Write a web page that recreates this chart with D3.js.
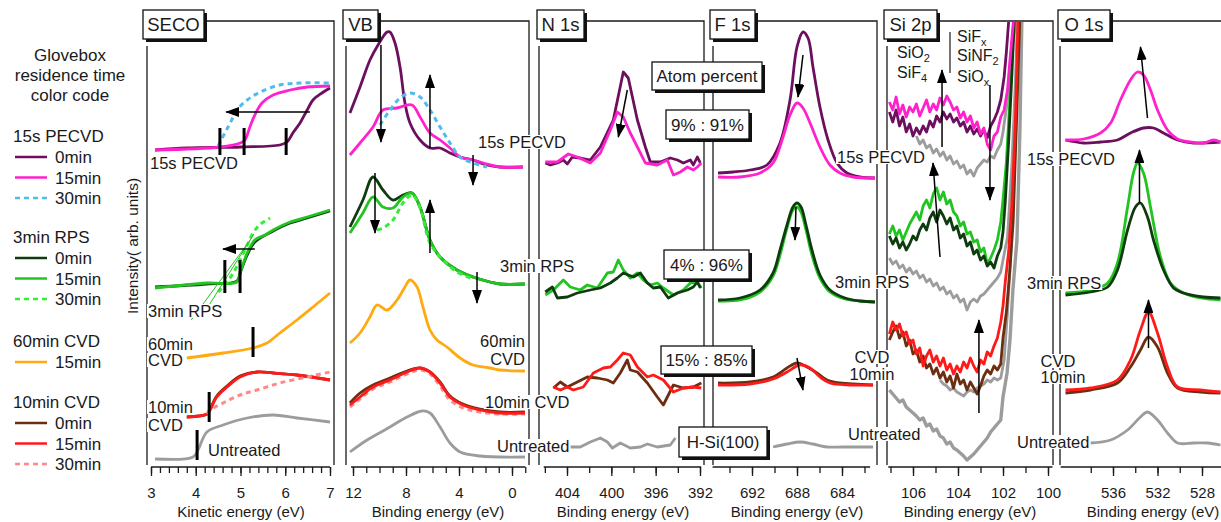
<!DOCTYPE html>
<html>
<head>
<meta charset="utf-8">
<script src="https://cdn.jsdelivr.net/npm/d3@7"></script>
<style>
  body { margin: 0; background: #fff; }
  text { font-family: Arial, "Liberation Sans", sans-serif; fill: #1a1a1a; }
</style>
</head>
<body>
<div id="chart"></div>
<script>
// ---- data: [energy (eV), intensity (arb. units)] ----

// SECO (kinetic energy)
const secoPecvd0 = [[3.09,312],[3.8,314],[5.0,315],[5.88,317],[6.04,320],[6.17,329],[6.33,339],[6.49,352],[6.62,362],[6.82,369],[7.0,374]];
const secoPecvd15 = [[3.09,312],[4.54,315],[5.0,319],[5.1,322],[5.21,335],[5.32,347],[5.48,359],[5.73,367],[6.11,372],[6.49,375],[7.0,376]];
const secoPecvd30 = [[4.5,316],[4.65,329],[4.77,339],[4.92,352],[5.15,362],[5.44,370],[5.88,377],[6.33,379],[7.0,379]];
const secoRps0 = [[3.09,175],[4.25,178],[4.92,181],[5.0,190],[5.15,207],[5.32,220],[5.73,231],[6.11,239],[6.49,244],[7.0,251]];
const secoRps15 = [[3.09,174],[4.25,179],[4.92,180],[4.99,189],[5.15,209],[5.32,222],[5.55,227],[5.73,232],[6.11,240],[6.49,245],[7.0,252]];
const secoRps30 = [[4.5,170],[4.7,180],[4.85,190],[4.99,202],[5.15,217],[5.28,229],[5.45,238],[5.66,244]];
const secoRpsFits = [[[3.9,142],[5.25,224]], [[4.2,150],[5.3,228]]];
const secoCvd60 = [[3.8,104],[4.61,109],[5.28,114],[5.59,119],[5.88,129],[6.26,142],[6.62,155],[7.0,169]];
const secoCvd10_0 = [[3.8,45],[4.25,48],[4.32,53],[4.47,66],[4.7,76],[4.99,86],[5.37,90],[5.73,89],[6.26,87],[7.0,82]];
const secoCvd10_15 = [[3.8,45],[4.25,48],[4.32,52],[4.47,65],[4.7,75],[4.99,85],[5.37,90],[5.73,89],[6.26,87],[7.0,82]];
const secoCvd10_30 = [[4.25,48],[4.32,52],[4.61,59],[4.99,67],[5.37,72],[5.88,79],[6.49,85],[7.0,90]];
const secoUntreated = [[3.09,3],[3.94,5],[4.05,12],[4.25,30],[4.61,37],[5.15,44],[5.73,47],[6.26,44],[7.0,40]];
// cutoff markers: [energy, low, high]
const secoMarks = [[4.54,307,334],[5.08,307,334],[6.02,307,334],[4.65,169,202],[4.99,169,202],[5.28,105,135],[4.3,40,70],[4.03,2,32]];

// VB
const vbPecvd0 = [[12.23,349],[11.47,375],[10.72,402],[10.11,417],[9.43,430],[9.21,430],[8.83,419],[8.45,395],[8.08,359],[7.7,339],[6.94,322],[6.19,314],[5.43,314],[4.68,309],[3.92,305],[2.94,302],[1.89,297],[0.91,295],[-0.83,295]];
const vbPecvd15 = [[12.23,307],[11.47,319],[10.49,335],[9.74,352],[8.68,354],[7.55,357],[6.94,345],[6.19,329],[5.43,322],[4.68,314],[3.92,305],[2.94,302],[1.89,298],[0.91,295],[-0.83,295]];
const vbPecvd30 = [[9.96,337],[9.21,352],[8.45,364],[7.7,369],[6.94,365],[6.19,352],[5.43,335],[4.68,319],[3.92,305],[2.94,299],[1.89,295]];
const vbRps0 = [[12.23,235],[11.25,262],[10.49,285],[9.74,272],[8.98,262],[8.23,267],[7.55,269],[6.94,255],[6.19,222],[5.43,205],[4.15,192],[2.94,185],[1.66,180],[0.91,178],[-0.98,178]];
const vbRps15 = [[12.23,229],[11.25,249],[10.49,265],[9.74,255],[8.98,254],[8.23,265],[7.55,269],[6.94,255],[6.19,222],[5.43,205],[4.15,192],[2.94,185],[1.66,180],[0.91,178],[-0.98,178]];
const vbRps30 = [[10.19,232],[9.74,234],[8.98,242],[8.23,259],[7.55,267],[6.94,254],[6.19,219],[5.21,202],[4.15,190],[2.94,183]];
const vbCvd60 = [[12.23,119],[11.47,129],[10.72,145],[10.19,157],[9.43,152],[8.68,162],[8.08,175],[7.7,182],[7.17,175],[6.72,155],[6.19,132],[5.66,122],[4.91,115],[3.92,104],[2.94,97],[1.66,94],[0.91,92],[-0.98,91]];
const vbCvd10_0 = [[12.23,59],[11.47,69],[10.49,77],[9.21,84],[7.92,91],[6.94,94],[6.19,90],[5.43,80],[4.68,66],[3.7,58],[2.42,53],[0.91,50],[-0.98,50]];
const vbCvd10_15 = [[12.23,57],[11.47,65],[10.49,75],[9.21,82],[7.92,90],[6.94,94],[6.19,90],[5.43,79],[4.68,65],[3.7,57],[2.42,52],[0.91,49],[-0.98,49]];
const vbCvd10_30 = [[12.23,55],[11.47,63],[10.49,73],[9.21,80],[7.92,88],[6.94,92],[6.19,88],[5.43,76],[4.68,62],[3.7,54],[2.42,50],[0.91,48],[-0.98,48]];
const vbUntreated = [[12.23,10],[10.94,22],[9.21,35],[7.92,45],[6.79,51],[6.19,49],[5.43,35],[4.68,19],[3.92,10],[2.42,6],[-0.98,5]];

// N 1s
const n1sPecvd0 = [[405.96,299],[405.5,297],[404.87,299],[404.33,302],[403.97,298],[403.52,305],[402.8,304],[401.9,302],[400.99,315],[399.82,342],[398.92,390],[398.47,384],[397.65,342],[396.93,315],[396.48,300],[395.58,300],[394.68,304],[394.04,302],[393.5,299],[392.87,302],[392.6,297],[392.24,305],[391.97,299]];
const n1sPecvd15 = [[405.96,300],[404.87,300],[403.88,308],[403.07,305],[401.9,299],[400.99,309],[400.09,332],[399.46,350],[398.92,345],[398.29,329],[397.65,315],[396.93,299],[395.85,297],[394.95,302],[394.4,287],[393.77,290],[393.14,295],[392.6,292],[392.24,295],[391.88,299]];
const n1sRps0 = [[405.96,170],[405.32,175],[404.87,164],[403.97,165],[403.07,169],[401.9,172],[400.99,174],[400.09,179],[399.46,184],[398.92,189],[398.01,185],[397.38,189],[396.75,179],[396.21,174],[395.58,175],[394.86,164],[394.04,169],[393.14,172],[392.6,175],[392.24,180],[391.97,174]];
const n1sRps15 = [[405.96,167],[405.23,172],[404.33,182],[403.7,175],[402.8,172],[402.17,177],[401.26,174],[400.36,189],[399.82,190],[399.37,202],[398.92,192],[398.29,184],[397.65,189],[397.11,182],[396.48,177],[395.85,179],[395.31,174],[394.4,167],[393.5,172],[392.87,179],[392.24,180],[391.88,174]];
const n1sCvd0 = [[405.23,74],[404.6,80],[403.97,75],[403.07,80],[402.17,85],[401.26,84],[400.36,82],[399.82,79],[399.19,89],[398.56,102],[398.29,92],[397.65,90],[396.75,79],[395.85,65],[395.31,57],[394.4,77],[393.5,74],[392.6,75],[391.88,79]];
const n1sCvd15 = [[405.23,75],[404.6,72],[403.97,75],[403.43,72],[402.53,75],[401.62,89],[400.72,94],[400.09,95],[399.46,102],[398.92,109],[398.29,107],[397.65,95],[396.75,85],[396.21,87],[395.31,82],[394.4,70],[393.5,74],[392.6,75],[391.88,74]];
const n1sUntreated = [[403.7,15],[402.8,15],[401.9,20],[400.99,24],[400.36,20],[399.91,14],[399.19,19],[398.29,14],[397.38,15],[396.75,18],[395.85,15],[394.68,17],[394.22,24]];

// F 1s
const f1sPecvd0 = [[695.02,289],[693.69,290],[692.18,292],[690.67,297],[689.51,319],[688.62,362],[688,415],[687.47,430],[687.02,424],[686.58,395],[685.96,355],[685.24,322],[684.44,299],[683.56,289],[682.4,285],[681.07,284]];
const f1sPecvd15 = [[695.02,285],[693.07,285],[691.29,289],[690.13,299],[689.24,325],[688.62,347],[688,359],[687.47,354],[686.84,339],[685.96,315],[685.07,297],[684.18,289],[683.02,285],[681.07,284]];
const f1sRps0 = [[695.02,162],[693.07,164],[691.29,172],[690.13,189],[689.51,212],[688.89,237],[688.36,255],[688,259],[687.64,255],[687.2,237],[686.67,212],[685.96,187],[685.07,172],[683.73,164],[682.4,161],[681.07,160]];
const f1sRps15 = [[695.02,161],[693.07,162],[691.29,170],[690.13,186],[689.51,207],[688.89,234],[688.36,252],[688,255],[687.64,250],[687.2,232],[686.67,207],[685.96,184],[685.07,170],[683.73,163],[682.4,161],[681.07,160]];
const f1sCvd0 = [[695.02,79],[692.18,80],[690.13,85],[688.89,94],[688,99],[687.11,95],[686.22,89],[685.33,82],[684.18,79],[681.24,77]];
const f1sCvd15 = [[695.02,77],[692.18,78],[690.13,83],[688.89,90],[687.73,97],[686.84,94],[685.96,85],[685.07,79],[683.29,77],[681.24,77]];
const f1sUntreated = [[690.13,15],[688.89,18],[687.73,20],[686.58,18],[685.33,15],[683.91,15],[681.24,15]];

// Si 2p: shared energy grid, then steep tails
const si2pGrid = [107.05,106.9,106.75,106.6,106.45,106.3,106.15,106.0,105.85,105.7,105.55,105.4,105.25,105.1,104.95,104.8,104.65,104.5,104.35,104.2,104.05,103.9,103.75,103.6,103.45,103.3,103.15,103.0,102.85,102.7,102.55,102.4,102.25,102.1];
const si2pPecvd15 = [360,352,365,348,357,345,355,350,358,346,354,362,350,358,352,364,357,366,360,352,355,344,350,340,346,334,340,328,334,318,312,326,330,345];
const si2pPecvd15Tail = [[101.95,352],[101.8,372],[101.7,400],[101.58,430],[101.5,450]];
const si2pPecvd0 = [350,340,352,336,345,330,338,326,334,328,336,330,341,335,346,340,350,343,348,340,344,336,340,330,336,328,333,326,332,324,336,342,350,362];
const si2pPecvd0Tail = [[101.95,385],[101.85,410],[101.75,440],[101.65,460]];
const si2pPecvdRef = [[105.85,326],[105.7,318],[105.55,322],[105.4,314],[105.25,317],[105.1,309],[104.95,313],[104.8,306],[104.65,310],[104.5,302],[104.35,306],[104.2,298],[104.05,301],[103.9,294],[103.75,297],[103.6,288],[103.45,292],[103.3,286],[103.15,294],[103.0,298],[102.85,302],[102.7,300],[102.55,306],[102.4,304],[102.25,312],[102.1,318],[102.0,330],[101.8,362],[101.6,412],[101.4,445]];
const si2pRps15 = [228,236,226,232,222,230,238,244,250,242,256,262,254,268,274,262,270,258,262,250,246,236,240,228,230,220,222,210,214,198,204,212,222,240];
const si2pRps15Tail = [[102.0,262],[101.85,300],[101.7,360],[101.58,420],[101.5,450]];
const si2pRps0 = [226,218,224,214,220,212,218,226,222,232,238,232,244,250,240,252,246,238,244,232,236,224,228,216,220,208,212,202,206,196,200,194,206,214];
const si2pRps0Tail = [[102.0,230],[101.9,260],[101.75,320],[101.6,390],[101.48,450]];
const si2pRpsRef = [204,198,201,194,197,190,194,188,191,184,187,180,183,176,179,172,175,168,171,164,167,160,163,152,160,163,160,166,168,172,176,180,184,190];
const si2pRpsRefTail = [[102.0,202],[101.8,225],[101.6,300],[101.45,380],[101.35,445]];
const si2pCvd15 = [128,140,132,138,126,130,118,122,108,114,96,106,112,100,106,96,104,92,98,88,96,90,100,94,104,96,90,102,98,110,106,116,124,140];
const si2pCvd15Tail = [[102.0,156],[101.9,180],[101.75,210],[101.6,260],[101.45,340],[101.33,445]];
const si2pCvd0 = [122,130,136,124,130,116,122,108,112,100,106,94,98,88,94,84,90,80,86,74,88,78,82,72,80,74,68,76,86,92,88,96,92,98];
const si2pCvd0Tail = [[102.0,124],[101.85,150],[101.7,190],[101.55,240],[101.4,340],[101.25,445]];
const si2pCvdRef = [[104.8,82],[104.65,78],[104.5,76],[104.35,72],[104.2,74],[104.05,70],[103.9,68],[103.75,66],[103.6,70],[103.45,72],[103.3,70],[103.15,74],[103.0,76],[102.85,78],[102.7,82],[102.55,80],[102.4,84],[102.25,82],[102.1,84],[101.95,102],[101.8,150],[101.65,210],[101.5,300],[101.35,445]];
const si2pUntreated = [72,68,64,60,62,55,52,49,46,42,44,36,38,31,33,26,24,18,20,14,12,9,6,2,5,8,12,16,20,24,30,34,38,42];
const si2pUntreatedTail = [[102.0,65],[101.82,89],[101.69,122],[101.56,172],[101.38,222],[101.25,330],[101.16,445]];

// O 1s
const o1sPecvd15 = [[540.27,322],[538.65,323],[537.12,329],[536.21,339],[535.33,362],[534.43,382],[533.8,390],[533.26,387],[532.63,372],[532,352],[531.1,332],[530.2,323],[529.03,320],[527.87,319],[526.97,322],[526.34,320]];
const o1sPecvd0 = [[540.27,322],[538.65,319],[537.12,320],[535.6,322],[534.43,329],[533.26,334],[532.36,334],[531.46,329],[530.2,322],[528.76,319],[526.34,320]];
const o1sRps15 = [[540.27,169],[538.02,172],[536.48,179],[535.6,199],[534.69,255],[534.16,289],[533.8,299],[533.26,289],[532.63,255],[531.73,205],[530.83,179],[529.66,169],[528.13,164],[526.34,162]];
const o1sRps0 = [[540.27,167],[538.02,170],[536.48,175],[535.6,192],[534.69,232],[533.98,255],[533.53,259],[532.9,245],[532.36,222],[531.46,192],[530.56,174],[529.66,169],[527.87,165],[526.34,164]];
const o1sCvd15 = [[540.27,72],[538.02,74],[535.6,82],[534.43,102],[533.53,132],[532.81,150],[532,129],[531.1,95],[530.2,75],[528.13,72],[526.34,70]];
const o1sCvd0 = [[540.27,69],[538.02,72],[535.6,79],[534.43,95],[533.53,112],[532.81,125],[532,115],[531.1,89],[530.2,74],[528.13,70],[526.34,69]];
const o1sUntreated = [[538.02,19],[536.21,22],[534.69,32],[533.53,45],[532.9,50],[532,42],[531.1,29],[530.2,19],[528.76,19],[527.51,19],[526.34,17]];

// arrows: [E1, I1, E2, I2] (head at second point)
const secoArrows = [[6.55,350,4.68,350],[5.32,213,4.61,213]];
const vbArrows = [[9.89,417,9.89,320],[6.19,314,6.19,387],[2.94,307,2.94,277],[10.34,289,10.34,229],[6.19,209,6.19,262],[2.64,190,2.64,159]];
const n1sArrows = [[398.56,372,399.37,325]];
const f1sArrows = [[687.47,407,687.91,365],[688.09,255,688.18,222],[688,104,687.47,72]];
const si2pArrows = [[104.71,315,104.71,392],[102.58,377,102.58,262],[104.8,205,105.11,299],[103.07,49,103.07,142]];
const o1sArrows = [[532.9,344,533.53,415],[533.62,259,533.62,312],[532.81,114,532.81,162]];

// ---- layout ----
const W = 1221, H = 522;
const C = {
  pur: '#6b0f5e', mag: '#ff22cc', blu: '#4fbcf0',
  dgr: '#0f3c0f', grn: '#22c422', lgr: '#33ee33',
  ora: '#ffaa11', bro: '#6b2e10', red: '#ff1a1a', pnk: '#ff8888', gry: '#9c9c9c'
};
const INK = '#1a1a1a';
const AXIS_Y = 467;

const svg = d3.select('#chart').append('svg').attr('width', W).attr('height', H);
const y = d3.scaleLinear().domain([0, 440]).range([462, 22]);

const zip = (grid, vals, tail) => grid.map((e, i) => [e, vals[i]]).concat(tail);

const panels = [
  { id: 'seco', name: 'SECO', box: [143, 10, 207, 42], left: 147, right: 334,
    dom: [3, 7], rng: [151, 330], ext: [3, 7], smooth: true,
    major: [3, 4, 5, 6, 7], minor: d3.range(3, 7.001, 0.2),
    title: 'Kinetic energy (eV)', titleX: 241,
    series: [
      [secoUntreated, C.gry], [secoCvd10_0, C.bro], [secoCvd10_15, C.red], [secoCvd10_30, C.pnk, true],
      [secoCvd60, C.ora], [secoRps0, C.dgr], [secoRps15, C.grn], [secoRps30, C.lgr, true],
      [secoPecvd0, C.pur], [secoPecvd15, C.mag], [secoPecvd30, C.blu, true]
    ], arrows: secoArrows },
  { id: 'vb', name: 'VB', box: [343, 10, 381, 42], left: 346, right: 529,
    dom: [12, 0], rng: [353, 512], ext: [12.15, -1], smooth: true,
    major: [12, 8, 4, 0], minor: d3.range(-1, 12.5, 1),
    title: 'Binding energy (eV)', titleX: 438,
    series: [
      [vbUntreated, C.gry], [vbCvd10_30, C.pnk, true], [vbCvd10_0, C.bro], [vbCvd10_15, C.red],
      [vbCvd60, C.ora], [vbRps0, C.dgr], [vbRps15, C.grn], [vbRps30, C.lgr, true],
      [vbPecvd0, C.pur], [vbPecvd15, C.mag], [vbPecvd30, C.blu, true]
    ], arrows: vbArrows },
  { id: 'n1s', name: 'N 1s', box: [537, 10, 587, 42], left: 539, right: 704,
    dom: [404, 392], rng: [567, 700], ext: [406.1, 391.9], smooth: false,
    major: [404, 400, 396, 392], minor: d3.range(392, 406.5, 2),
    title: 'Binding energy (eV)', titleX: 623,
    series: [
      [n1sUntreated, C.gry], [n1sCvd0, C.bro], [n1sCvd15, C.red],
      [n1sRps15, C.grn], [n1sRps0, C.dgr], [n1sPecvd0, C.pur], [n1sPecvd15, C.mag]
    ], arrows: n1sArrows },
  { id: 'f1s', name: 'F 1s', box: [710, 10, 758, 42], left: 713, right: 877,
    dom: [692, 684], rng: [752, 842], ext: [695.5, 681.5], smooth: true,
    major: [692, 688, 684], minor: d3.range(682, 694.5, 2),
    title: 'Binding energy (eV)', titleX: 797,
    series: [
      [f1sUntreated, C.gry], [f1sCvd0, C.bro], [f1sCvd15, C.red],
      [f1sRps15, C.grn], [f1sRps0, C.dgr], [f1sPecvd0, C.pur], [f1sPecvd15, C.mag]
    ], arrows: f1sArrows },
  { id: 'si2p', name: 'Si 2p', box: [884, 10, 940, 42], left: 887, right: 1053,
    dom: [106, 100], rng: [913, 1048], ext: [107.1, 99.8], smooth: false,
    major: [106, 104, 102, 100], minor: d3.range(100, 107.5, 1),
    title: 'Binding energy (eV)', titleX: 970,
    series: [
      [zip(si2pGrid, si2pUntreated, si2pUntreatedTail), C.gry, false, 3.4],
      [si2pCvdRef, C.gry], [zip(si2pGrid, si2pRpsRef, si2pRpsRefTail), C.gry], [si2pPecvdRef, C.gry],
      [zip(si2pGrid, si2pCvd0, si2pCvd0Tail), C.bro], [zip(si2pGrid, si2pCvd15, si2pCvd15Tail), C.red],
      [zip(si2pGrid, si2pRps15, si2pRps15Tail), C.grn], [zip(si2pGrid, si2pRps0, si2pRps0Tail), C.dgr],
      [zip(si2pGrid, si2pPecvd0, si2pPecvd0Tail), C.pur], [zip(si2pGrid, si2pPecvd15, si2pPecvd15Tail), C.mag]
    ], arrows: si2pArrows },
  { id: 'o1s', name: 'O 1s', box: [1058, 10, 1113, 42], left: 1060, right: 1240,
    dom: [536, 528], rng: [1113, 1202], ext: [540.7, 525.5], smooth: true,
    major: [536, 532, 528], minor: d3.range(526, 538.5, 2),
    title: 'Binding energy (eV)', titleX: 1153,
    series: [
      [o1sUntreated, C.gry], [o1sCvd0, C.bro], [o1sCvd15, C.red],
      [o1sRps15, C.grn], [o1sRps0, C.dgr], [o1sPecvd0, C.pur], [o1sPecvd15, C.mag]
    ], arrows: o1sArrows }
];

// arrow head
svg.append('defs').append('marker')
  .attr('id', 'head').attr('markerUnits', 'userSpaceOnUse')
  .attr('markerWidth', 14).attr('markerHeight', 10)
  .attr('refX', 13).attr('refY', 5).attr('orient', 'auto')
  .append('path').attr('d', 'M0,0L14,5L0,10Z').attr('fill', '#000');

panels.forEach((p) => {
  const x = d3.scaleLinear().domain(p.dom).range(p.rng);
  const g = svg.append('g').attr('class', 'panel-' + p.id);

  svg.select('defs').append('clipPath').attr('id', 'clip-' + p.id)
    .append('rect').attr('x', p.left + 1).attr('y', 22)
    .attr('width', p.right - p.left - 2).attr('height', 442);

  // frame
  g.append('path')
    .attr('d', `M${p.left},46V465M${p.box[2]},21H${p.right}V465`)
    .attr('fill', 'none').attr('stroke', INK).attr('stroke-width', 1.3);

  // bottom axis
  const ax = g.append('g').attr('transform', `translate(0,${AXIS_Y})`);
  ax.append('line').attr('x1', x(p.ext[0])).attr('x2', x(p.ext[1]))
    .attr('stroke', INK).attr('stroke-width', 1.3);
  ax.call(d3.axisBottom(x).tickValues(p.minor).tickSize(6).tickFormat(''))
    .call((s) => s.select('.domain').remove());
  const maj = g.append('g').attr('transform', `translate(0,${AXIS_Y})`);
  maj.call(d3.axisBottom(x).tickValues(p.major).tickSize(9).tickFormat(d3.format('d')))
    .call((s) => s.select('.domain').remove())
    .call((s) => s.selectAll('.tick text').attr('y', 20).style('font-size', '15px').attr('fill', INK));
  g.selectAll('.tick line').attr('stroke', INK).attr('stroke-width', 1.3);

  g.append('text').attr('x', p.titleX).attr('y', 517).attr('text-anchor', 'middle')
    .style('font-size', '15px').text(p.title);

  // spectra
  const line = d3.line().x((d) => x(d[0])).y((d) => y(d[1]))
    .curve(p.smooth ? d3.curveCatmullRom.alpha(0.5) : d3.curveLinear);
  const curves = g.append('g').attr('clip-path', `url(#clip-${p.id})`);
  p.series.forEach(([data, color, dashed, w]) => {
    curves.append('path').datum(data).attr('d', line)
      .attr('fill', 'none').attr('stroke', color)
      .attr('stroke-width', w || (dashed ? 3 : 2.8))
      .attr('stroke-dasharray', dashed ? '5,4' : null)
      .attr('stroke-linejoin', 'round');
  });

  if (p.id === 'seco') {
    const fitLine = d3.line().x((d) => x(d[0])).y((d) => y(d[1]));
    secoRpsFits.forEach((f) => {
      curves.append('path').datum(f).attr('d', fitLine)
        .attr('fill', 'none').attr('stroke', C.grn).attr('stroke-width', 1);
    });
    curves.selectAll('.mark').data(secoMarks).join('line')
      .attr('x1', (d) => x(d[0])).attr('x2', (d) => x(d[0]))
      .attr('y1', (d) => y(d[1])).attr('y2', (d) => y(d[2]))
      .attr('stroke', '#000').attr('stroke-width', 3);
  }

  g.selectAll('.arrow').data(p.arrows).join('line')
    .attr('x1', (d) => x(d[0])).attr('y1', (d) => y(d[1]))
    .attr('x2', (d) => x(d[2])).attr('y2', (d) => y(d[3]))
    .attr('stroke', '#000').attr('stroke-width', 1.5)
    .attr('marker-end', 'url(#head)');
});

// boxed labels (with drop shadow)
function shadowBox(x0, y0, x1, y1, label, fs) {
  const w = x1 - x0 - 3, h = y1 - y0 - 3;
  svg.append('rect').attr('x', x0 + 3).attr('y', y0 + 3).attr('width', w).attr('height', h).attr('fill', '#111');
  svg.append('rect').attr('x', x0).attr('y', y0).attr('width', w).attr('height', h)
    .attr('fill', '#fff').attr('stroke', '#111').attr('stroke-width', 1.3);
  svg.append('text').attr('x', x0 + w / 2).attr('y', y0 + h / 2 + fs * 0.36)
    .attr('text-anchor', 'middle').style('font-size', fs + 'px').text(label);
}
panels.forEach((p) => shadowBox(p.box[0], p.box[1], p.box[2], p.box[3], p.name, 18.5));

const ratioBoxes = [
  [652, 62, 765, 93, 'Atom percent'],
  [666, 110, 752, 142, '9% : 91%'],
  [664, 250, 752, 282, '4% : 96%'],
  [661, 346, 755, 377, '15% : 85%'],
  [679, 427, 770, 460, 'H-Si(100)']
];
ratioBoxes.forEach((b) => shadowBox(b[0], b[1], b[2], b[3], b[4], 17));

// sample labels (opaque background like the original annotations)
const groupLabels = [
  ['15s PECVD', 150, 169, 'start'], ['3min RPS', 148, 317, 'start'],
  ['60min', 148, 350, 'start'], ['CVD', 148, 366, 'start'],
  ['10min', 148, 413, 'start'], ['CVD', 148, 431, 'start'],
  ['Untreated', 208, 456, 'start'],
  ['15s PECVD', 478, 148, 'start'], ['3min RPS', 500, 272, 'start'],
  ['60min', 525, 347, 'end'], ['CVD', 525, 365, 'end'],
  ['10min CVD', 485, 408, 'start'], ['Untreated', 497, 452, 'start'],
  ['15s PECVD', 837, 163, 'start'], ['3min RPS', 835, 288, 'start'],
  ['CVD', 872, 363, 'middle'], ['10min', 872, 380, 'middle'],
  ['Untreated', 848, 440, 'start'],
  ['15s PECVD', 1027, 165, 'start'], ['3min RPS', 1027, 289, 'start'],
  ['CVD', 1058, 367, 'middle'], ['10min', 1063, 383, 'middle'],
  ['Untreated', 1017, 448, 'start']
];
groupLabels.forEach(([t, gx, gy, anchor]) => {
  const lg = svg.append('g');
  const txt = lg.append('text').attr('x', gx).attr('y', gy).attr('text-anchor', anchor)
    .style('font-size', '16.5px').text(t);
  const bb = txt.node().getBBox();
  lg.insert('rect', 'text').attr('x', bb.x - 1).attr('y', bb.y + 2)
    .attr('width', bb.width + 2).attr('height', bb.height - 4).attr('fill', '#fff');
});

// Si 2p chemical-state labels
const si = svg.append('g').style('font-size', '16px');
[['SiO', '2', 897, 58], ['SiF', '4', 897, 78], ['SiF', 'x', 957, 42], ['SiNF', '2', 957, 61], ['SiO', 'x', 957, 82]]
  .forEach(([a, sub, tx, ty]) => {
    const t = si.append('text').attr('x', tx).attr('y', ty);
    t.append('tspan').text(a);
    t.append('tspan').attr('dy', 4).style('font-size', '11px').text(sub);
  });
si.append('line').attr('x1', 950).attr('x2', 950).attr('y1', 32).attr('y2', 73)
  .attr('stroke', INK).attr('stroke-width', 1.2);

// y-axis title
svg.append('text').attr('transform', 'translate(138,246) rotate(-90)')
  .attr('text-anchor', 'middle').style('font-size', '15.5px').text('Intensity( arb. units)');

// legend
const legendTitle = ['Glovebox', 'residence time', 'color code'];
const legendGroups = [
  { name: '15s PECVD', y: 142, items: [['0min', C.pur], ['15min', C.mag], ['30min', C.blu, true]] },
  { name: '3min RPS', y: 243, items: [['0min', C.dgr], ['15min', C.grn], ['30min', C.lgr, true]] },
  { name: '60min CVD', y: 347, items: [['15min', C.ora]] },
  { name: '10min CVD', y: 408, items: [['0min', C.bro], ['15min', C.red], ['30min', C.pnk, true]] }
];
const leg = svg.append('g').style('font-size', '17px');
legendTitle.forEach((t, i) => {
  leg.append('text').attr('x', 70).attr('y', 61 + i * 20).attr('text-anchor', 'middle').text(t);
});
legendGroups.forEach((grp) => {
  leg.append('text').attr('x', 13).attr('y', grp.y).text(grp.name);
  grp.items.forEach(([t, color, dashed], i) => {
    const ly = grp.y + 15 + i * 20.5;
    leg.append('line').attr('x1', 15).attr('x2', 47).attr('y1', ly).attr('y2', ly)
      .attr('stroke', color).attr('stroke-width', 2.5)
      .attr('stroke-dasharray', dashed ? '5,4' : null);
    leg.append('text').attr('x', 55).attr('y', ly + 6).text(t);
  });
});
</script>
</body>
</html>
